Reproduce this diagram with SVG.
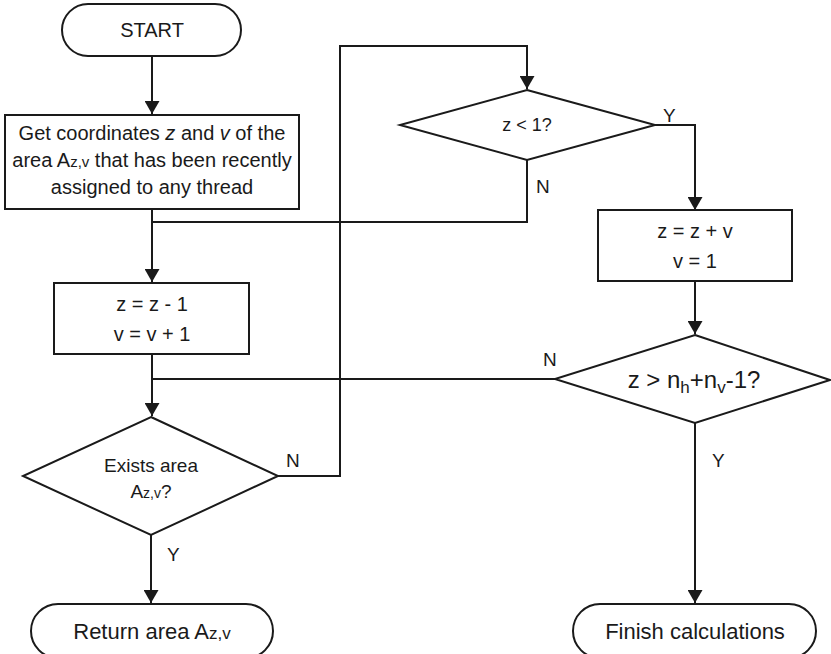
<svg xmlns="http://www.w3.org/2000/svg" width="831" height="654" viewBox="0 0 831 654">
<style>
.s{fill:#fff;stroke:#1a1a1a;stroke-width:2}
.c{fill:none;stroke:#1a1a1a;stroke-width:2}
text{font-family:"Liberation Sans",Arial,sans-serif;fill:#1a1a1a}
.m{text-anchor:middle}
.l{font-size:19px}
</style>
<defs>
<marker id="ah" viewBox="0 0 13 15" refX="13" refY="7.5" markerWidth="13" markerHeight="15" markerUnits="userSpaceOnUse" orient="auto">
<path d="M0,0 L13,7.5 L0,15 Z" fill="#1a1a1a"/>
</marker>
</defs>
<rect width="831" height="654" fill="#fff"/>
<g id="connectors">
<path class="c" d="M152,56 V114" marker-end="url(#ah)"/>
<path class="c" d="M152,209 V282" marker-end="url(#ah)"/>
<path class="c" d="M527,160 V222 H152"/>
<path class="c" d="M152,354 V416" marker-end="url(#ah)"/>
<path class="c" d="M555,379 H152"/>
<path class="c" d="M278,476 H340 V46 H527 V89" marker-end="url(#ah)"/>
<path class="c" d="M655,125 H695 V210" marker-end="url(#ah)"/>
<path class="c" d="M695,281 V334" marker-end="url(#ah)"/>
<path class="c" d="M695,423 V603" marker-end="url(#ah)"/>
<path class="c" d="M151,535 V603" marker-end="url(#ah)"/>
<text class="l" x="286" y="467">N</text>
<text class="l" x="536" y="193">N</text>
<text class="l" x="663" y="122">Y</text>
<text class="l" x="543" y="366">N</text>
<text class="l" x="712" y="467">Y</text>
<text class="l" x="167" y="561">Y</text>
</g>
<g id="start">
<rect class="s" x="62" y="4" width="179" height="52" rx="26"/>
<text class="m" x="152" y="37" font-size="20">START</text>
</g>
<g id="get">
<rect class="s" x="5" y="115" width="294" height="94"/>
<text class="m" x="152" y="140" font-size="20">Get coordinates <tspan font-style="italic">z</tspan> and <tspan font-style="italic">v</tspan> of the</text>
<text class="m" x="152" y="167" font-size="20">area A<tspan font-size="15">z,v</tspan> that has been recently</text>
<text class="m" x="152" y="194" font-size="20">assigned to any thread</text>
</g>
<g id="dec">
<rect class="s" x="54" y="283" width="195" height="71"/>
<text class="m" x="152" y="311" font-size="20">z = z - 1</text>
<text class="m" x="152" y="341" font-size="20">v = v + 1</text>
</g>
<g id="exists">
<path class="s" d="M151,417 L278,476 L151,535 L23,476 Z"/>
<text class="m" x="151" y="472" font-size="19">Exists area</text>
<text class="m" x="151" y="498" font-size="19">A<tspan font-size="14">z,v</tspan>?</text>
</g>
<g id="zlt1">
<path class="s" d="M527,90 L655,125 L527,160 L400,125 Z"/>
<text class="m" x="527" y="131" font-size="18">z &lt; 1?</text>
</g>
<g id="reset">
<rect class="s" x="598" y="210" width="194" height="71"/>
<text class="m" x="695" y="238" font-size="20">z = z + v</text>
<text class="m" x="695" y="268" font-size="20">v = 1</text>
</g>
<g id="zgt">
<path class="s" d="M695,335 L830,380 L695,423 L555,379 Z"/>
<text class="m" x="694" y="388" font-size="24">z &gt; n<tspan font-size="17" dy="5">h</tspan><tspan dy="-5">+n</tspan><tspan font-size="17" dy="5">v</tspan><tspan dy="-5">-1?</tspan></text>
</g>
<g id="ret">
<rect class="s" x="31" y="604" width="242" height="54" rx="27"/>
<text class="m" x="152" y="639" font-size="22">Return area A<tspan font-size="17">z,v</tspan></text>
</g>
<g id="finish">
<rect class="s" x="573" y="604" width="243" height="54" rx="27"/>
<text class="m" x="695" y="639" font-size="22">Finish calculations</text>
</g>
</svg>
